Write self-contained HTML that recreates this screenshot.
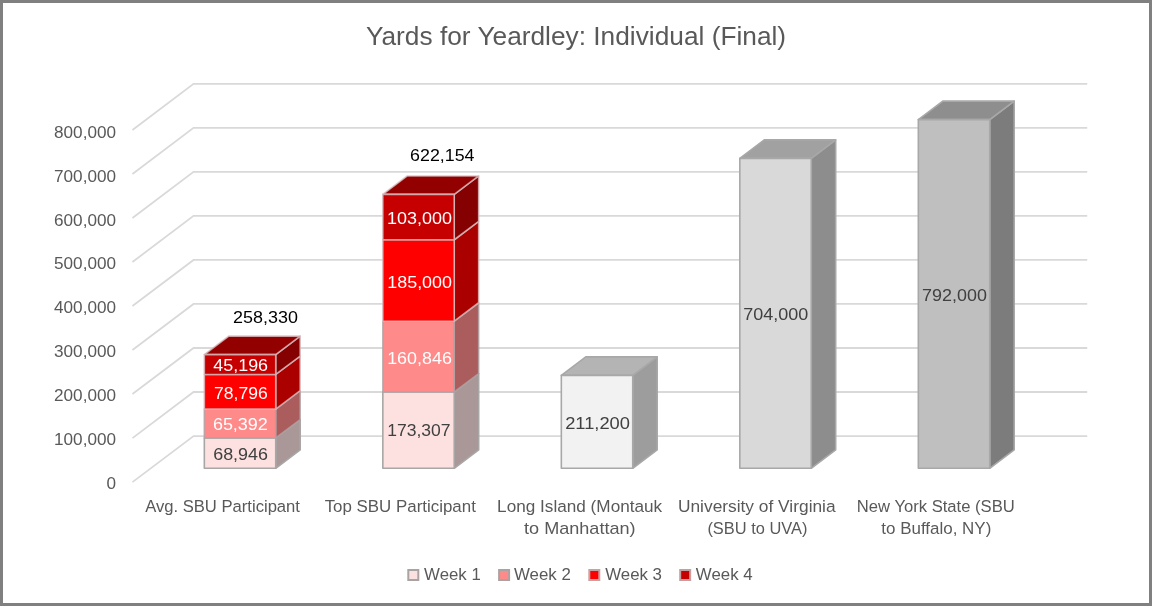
<!DOCTYPE html>
<html><head><meta charset="utf-8"><style>
html,body{margin:0;padding:0;background:#fff;}
#c{position:relative;width:1152px;height:606px;overflow:hidden;background:#fff;}
#c svg{position:absolute;left:0;top:0;will-change:transform;}
#frame{position:absolute;left:0;top:0;width:1146px;height:600px;border:3px solid #808080;}
text{font-family:"Liberation Sans",sans-serif;}
</style></head><body><div id="c">
<svg width="1152" height="606" viewBox="0 0 1152 606">
<polyline points="132.45,482.15 193.55,436.05 1087.25,436.05" fill="none" stroke="#D9D9D9" stroke-width="1.8"/>
<polyline points="132.45,438.12 193.55,392.02 1087.25,392.02" fill="none" stroke="#D9D9D9" stroke-width="1.8"/>
<polyline points="132.45,394.09 193.55,347.99 1087.25,347.99" fill="none" stroke="#D9D9D9" stroke-width="1.8"/>
<polyline points="132.45,350.06 193.55,303.96 1087.25,303.96" fill="none" stroke="#D9D9D9" stroke-width="1.8"/>
<polyline points="132.45,306.03 193.55,259.93 1087.25,259.93" fill="none" stroke="#D9D9D9" stroke-width="1.8"/>
<polyline points="132.45,262.00 193.55,215.90 1087.25,215.90" fill="none" stroke="#D9D9D9" stroke-width="1.8"/>
<polyline points="132.45,217.97 193.55,171.87 1087.25,171.87" fill="none" stroke="#D9D9D9" stroke-width="1.8"/>
<polyline points="132.45,173.94 193.55,127.84 1087.25,127.84" fill="none" stroke="#D9D9D9" stroke-width="1.8"/>
<polyline points="132.45,129.91 193.55,83.81 1087.25,83.81" fill="none" stroke="#D9D9D9" stroke-width="1.8"/>
<polygon points="275.73,468.32 300.17,449.88 300.17,419.52 275.73,437.96" fill="#AA9797" stroke="#A9A6A6" stroke-width="1.6" stroke-linejoin="round"/>
<polygon points="204.33,468.32 204.33,437.96 275.73,437.96 275.73,468.32" fill="#FDE0E0" stroke="#A9A6A6" stroke-width="1.6" stroke-linejoin="round"/>
<polygon points="275.73,437.96 300.17,419.52 300.17,390.73 275.73,409.17" fill="#AB5D5D" stroke="rgba(175,160,162,0.8)" stroke-width="1.6" stroke-linejoin="round"/>
<polygon points="204.33,437.96 204.33,409.17 275.73,409.17 275.73,437.96" fill="#FF8A8A" stroke="rgba(175,160,162,0.8)" stroke-width="1.6" stroke-linejoin="round"/>
<polygon points="275.73,409.17 300.17,390.73 300.17,356.04 275.73,374.48" fill="#AB0000" stroke="rgba(215,188,190,0.8)" stroke-width="1.6" stroke-linejoin="round"/>
<polygon points="204.33,409.17 204.33,374.48 275.73,374.48 275.73,409.17" fill="#FF0000" stroke="rgba(215,188,190,0.8)" stroke-width="1.6" stroke-linejoin="round"/>
<polygon points="275.73,374.48 300.17,356.04 300.17,336.14 275.73,354.58" fill="#850000" stroke="rgba(215,188,190,0.8)" stroke-width="1.6" stroke-linejoin="round"/>
<polygon points="204.33,354.58 228.77,336.14 300.17,336.14 275.73,354.58" fill="#930000" stroke="rgba(215,188,190,0.8)" stroke-width="1.6" stroke-linejoin="round"/>
<polygon points="204.33,374.48 204.33,354.58 275.73,354.58 275.73,374.48" fill="#C60000" stroke="rgba(215,188,190,0.8)" stroke-width="1.6" stroke-linejoin="round"/>
<polygon points="454.23,468.32 478.67,449.88 478.67,373.57 454.23,392.01" fill="#AA9797" stroke="#A9A6A6" stroke-width="1.6" stroke-linejoin="round"/>
<polygon points="382.83,468.32 382.83,392.01 454.23,392.01 454.23,468.32" fill="#FDE0E0" stroke="#A9A6A6" stroke-width="1.6" stroke-linejoin="round"/>
<polygon points="454.23,392.01 478.67,373.57 478.67,302.75 454.23,321.19" fill="#AB5D5D" stroke="rgba(175,160,162,0.8)" stroke-width="1.6" stroke-linejoin="round"/>
<polygon points="382.83,392.01 382.83,321.19 454.23,321.19 454.23,392.01" fill="#FF8A8A" stroke="rgba(175,160,162,0.8)" stroke-width="1.6" stroke-linejoin="round"/>
<polygon points="454.23,321.19 478.67,302.75 478.67,221.30 454.23,239.74" fill="#AB0000" stroke="rgba(215,188,190,0.8)" stroke-width="1.6" stroke-linejoin="round"/>
<polygon points="382.83,321.19 382.83,239.74 454.23,239.74 454.23,321.19" fill="#FF0000" stroke="rgba(215,188,190,0.8)" stroke-width="1.6" stroke-linejoin="round"/>
<polygon points="454.23,239.74 478.67,221.30 478.67,175.95 454.23,194.39" fill="#850000" stroke="rgba(215,188,190,0.8)" stroke-width="1.6" stroke-linejoin="round"/>
<polygon points="382.83,194.39 407.27,175.95 478.67,175.95 454.23,194.39" fill="#930000" stroke="rgba(215,188,190,0.8)" stroke-width="1.6" stroke-linejoin="round"/>
<polygon points="382.83,239.74 382.83,194.39 454.23,194.39 454.23,239.74" fill="#C60000" stroke="rgba(215,188,190,0.8)" stroke-width="1.6" stroke-linejoin="round"/>
<polygon points="632.73,468.32 657.17,449.88 657.17,356.89 632.73,375.33" fill="#9D9D9D" stroke="#A8A8A8" stroke-width="1.6" stroke-linejoin="round"/>
<polygon points="561.33,375.33 585.77,356.89 657.17,356.89 632.73,375.33" fill="#B4B4B4" stroke="#A8A8A8" stroke-width="1.6" stroke-linejoin="round"/>
<polygon points="561.33,468.32 561.33,375.33 632.73,375.33 632.73,468.32" fill="#F2F2F2" stroke="#A8A8A8" stroke-width="1.6" stroke-linejoin="round"/>
<polygon points="811.23,468.32 835.67,449.88 835.67,139.91 811.23,158.35" fill="#8D8D8D" stroke="#A8A8A8" stroke-width="1.6" stroke-linejoin="round"/>
<polygon points="739.83,158.35 764.27,139.91 835.67,139.91 811.23,158.35" fill="#A1A1A1" stroke="#A8A8A8" stroke-width="1.6" stroke-linejoin="round"/>
<polygon points="739.83,468.32 739.83,158.35 811.23,158.35 811.23,468.32" fill="#D9D9D9" stroke="#A8A8A8" stroke-width="1.6" stroke-linejoin="round"/>
<polygon points="989.73,468.32 1014.17,449.88 1014.17,101.16 989.73,119.60" fill="#7C7C7C" stroke="#A8A8A8" stroke-width="1.6" stroke-linejoin="round"/>
<polygon points="918.33,119.60 942.77,101.16 1014.17,101.16 989.73,119.60" fill="#8E8E8E" stroke="#A8A8A8" stroke-width="1.6" stroke-linejoin="round"/>
<polygon points="918.33,468.32 918.33,119.60 989.73,119.60 989.73,468.32" fill="#BFBFBF" stroke="#A8A8A8" stroke-width="1.6" stroke-linejoin="round"/>
<text x="0" y="0" transform="translate(213.19,459.70) scale(1.0604,1)" font-size="16.90" fill="#404040">68,946</text>
<text x="0" y="0" transform="translate(212.88,430.00) scale(1.0646,1)" font-size="16.90" fill="#FFFFFF">65,392</text>
<text x="0" y="0" transform="translate(214.00,398.60) scale(1.0384,1)" font-size="16.90" fill="#FFFFFF">78,796</text>
<text x="0" y="0" transform="translate(213.29,370.70) scale(1.0604,1)" font-size="16.90" fill="#FFFFFF">45,196</text>
<text x="0" y="0" transform="translate(387.17,436.40) scale(1.0379,1)" font-size="16.90" fill="#404040">173,307</text>
<text x="0" y="0" transform="translate(387.14,363.70) scale(1.0598,1)" font-size="16.90" fill="#FFFFFF">160,846</text>
<text x="0" y="0" transform="translate(387.24,287.60) scale(1.0617,1)" font-size="16.90" fill="#FFFFFF">185,000</text>
<text x="0" y="0" transform="translate(386.93,223.70) scale(1.0651,1)" font-size="16.90" fill="#FFFFFF">103,000</text>
<text x="0" y="0" transform="translate(565.18,428.70) scale(1.0836,1)" font-size="16.90" fill="#404040">211,200</text>
<text x="0" y="0" transform="translate(743.18,319.70) scale(1.0642,1)" font-size="16.90" fill="#404040">704,000</text>
<text x="0" y="0" transform="translate(922.08,300.55) scale(1.0617,1)" font-size="16.90" fill="#404040">792,000</text>
<text x="0" y="0" transform="translate(233.10,322.50) scale(1.0623,1)" font-size="16.90" fill="#000000">258,330</text>
<text x="0" y="0" transform="translate(410.09,160.70) scale(1.0545,1)" font-size="16.90" fill="#000000">622,154</text>
<text x="0" y="0" transform="translate(106.53,488.90) scale(1.0090,1)" font-size="17.00" fill="#595959">0</text>
<text x="0" y="0" transform="translate(54.06,445.00) scale(1.0090,1)" font-size="17.00" fill="#595959">100,000</text>
<text x="0" y="0" transform="translate(54.06,401.10) scale(1.0090,1)" font-size="17.00" fill="#595959">200,000</text>
<text x="0" y="0" transform="translate(54.06,357.20) scale(1.0090,1)" font-size="17.00" fill="#595959">300,000</text>
<text x="0" y="0" transform="translate(54.06,313.30) scale(1.0090,1)" font-size="17.00" fill="#595959">400,000</text>
<text x="0" y="0" transform="translate(54.06,269.40) scale(1.0090,1)" font-size="17.00" fill="#595959">500,000</text>
<text x="0" y="0" transform="translate(54.06,225.50) scale(1.0090,1)" font-size="17.00" fill="#595959">600,000</text>
<text x="0" y="0" transform="translate(54.06,181.60) scale(1.0090,1)" font-size="17.00" fill="#595959">700,000</text>
<text x="0" y="0" transform="translate(54.06,137.70) scale(1.0090,1)" font-size="17.00" fill="#595959">800,000</text>
<text x="0" y="0" transform="translate(145.17,511.90) scale(0.9780,1)" font-size="17.00" fill="#595959">Avg. SBU Participant</text>
<text x="0" y="0" transform="translate(324.63,511.90) scale(0.9951,1)" font-size="17.00" fill="#595959">Top SBU Participant</text>
<text x="0" y="0" transform="translate(497.09,511.90) scale(1.0104,1)" font-size="17.00" fill="#595959">Long Island (Montauk</text>
<text x="0" y="0" transform="translate(524.03,534.40) scale(1.0639,1)" font-size="17.00" fill="#595959">to Manhattan)</text>
<text x="0" y="0" transform="translate(677.96,511.90) scale(1.0207,1)" font-size="17.00" fill="#595959">University of Virginia</text>
<text x="0" y="0" transform="translate(707.38,534.40) scale(0.9656,1)" font-size="17.00" fill="#595959">(SBU to UVA)</text>
<text x="0" y="0" transform="translate(856.84,511.90) scale(0.9782,1)" font-size="17.00" fill="#595959">New York State (SBU</text>
<text x="0" y="0" transform="translate(881.35,534.40) scale(0.9988,1)" font-size="17.00" fill="#595959">to Buffalo, NY)</text>
<rect x="408.30" y="570" width="10" height="10" fill="#FDE0E0" stroke="#A8A4A4" stroke-width="2"/>
<text x="0" y="0" transform="translate(424.12,579.90) scale(0.9893,1)" font-size="17.00" fill="#595959">Week 1</text>
<rect x="499.10" y="570" width="10" height="10" fill="#FF8A8A" stroke="#ADA2A2" stroke-width="2"/>
<text x="0" y="0" transform="translate(514.02,579.90) scale(0.9913,1)" font-size="17.00" fill="#595959">Week 2</text>
<rect x="589.30" y="570" width="10" height="10" fill="#FF0000" stroke="#C8A2A2" stroke-width="2"/>
<text x="0" y="0" transform="translate(605.22,579.90) scale(0.9913,1)" font-size="17.00" fill="#595959">Week 3</text>
<rect x="680.20" y="570" width="10" height="10" fill="#C60000" stroke="#C2A0A0" stroke-width="2"/>
<text x="0" y="0" transform="translate(695.82,579.90) scale(0.9921,1)" font-size="17.00" fill="#595959">Week 4</text>
<text x="0" y="0" transform="translate(365.92,44.60) scale(1.0517,1)" font-size="25.00" fill="#595959">Yards for Yeardley: Individual (Final)</text>
</svg><div id="frame"></div></div></body></html>
